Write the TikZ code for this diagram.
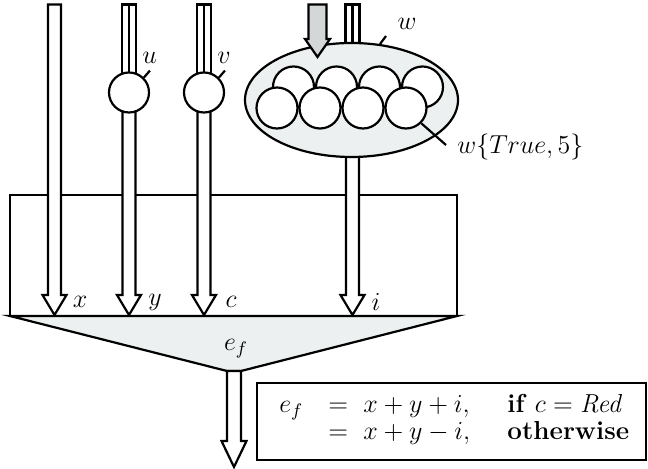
\documentclass[tikz,border=0pt]{standalone}
\usepackage{fix-cm}
\usepackage{amsmath}
\usetikzlibrary{shapes.geometric}
\definecolor{lightfill}{HTML}{EDF0F0}
\definecolor{grayarrow}{HTML}{D3D7D7}
\tikzset{
  outline/.style={draw=black, line width=1.1pt, line join=miter},
  ball/.style={circle, outline, fill=white, minimum size=20pt, inner sep=0pt},
  smallball/.style={circle, outline, fill=white, minimum size=20.5pt, inner sep=0pt},
  lbl/.style={inner sep=0pt},
  eqpart/.style={inner sep=0pt, anchor=base west},
  tick/.style={draw=black, line width=1.1pt}
}
% [fill] centre x, top y, tip y, shaft half width, head half width, head length
\newcommand{\hollowarrow}[7][white]{%
  \filldraw[outline, fill=#1] ({#2-#5},{#3}) -- ({#2-#5},{#4-#7}) -- ({#2-#6},{#4-#7})
    -- ({#2},{#4}) -- ({#2+#6},{#4-#7}) -- ({#2+#5},{#4-#7}) -- ({#2+#5},{#3}) -- cycle;}
\newcommand{\doubleshaft}[3]{%
  \filldraw[outline, fill=white] ({#1-7},{#2}) rectangle ({#1+7},{#3});
  \draw[outline] ({#1},{#2}) -- ({#1},{#3});}
\begin{document}
\begin{tikzpicture}[x=0.5pt,y=-0.5pt,font=\fontsize{13}{15.6}\selectfont]
\useasboundingbox (0,0) rectangle (648,469);

% processing box and funnel
\draw[outline] (10,195) rectangle (457,316);
\filldraw[outline, fill=lightfill] (10,316) -- (457,316) -- (241,371) -- (227,371) -- cycle;
\node[lbl] (ef) at (236,349) {$e_f$};

% x input
\hollowarrow{54.5}{4.5}{315}{6.5}{12}{20}
\node[lbl] (lx) at (80,302) {$x$};

% y input through u
\doubleshaft{129}{4.5}{80}
\hollowarrow{129}{100}{315}{6.5}{12}{20}
\node[ball] (u) at (129,92.5) {};
\draw[tick] (u.45) -- ++(6,-7) coordinate (ut);
\node[lbl] (lu) at (149.5,58) {$u$};
\node[lbl] (ly) at (155,302) {$y$};

% c input through v
\doubleshaft{204}{4.5}{80}
\hollowarrow{204}{100}{315}{6.5}{12}{20}
\node[ball] (v) at (204,92.5) {};
\draw[tick] (v.45) -- ++(6,-7) coordinate (vt);
\node[lbl] (lv) at (224,58) {$v$};
\node[lbl] (lc) at (231,302) {$c$};

% i input through w
\doubleshaft{352.5}{4.5}{60}
\hollowarrow{352.5}{120}{315}{6.5}{12}{20}
\node[ellipse, outline, fill=lightfill, minimum width=106.5pt, minimum height=57pt, inner sep=0pt] (w) at (351.5,100) {};
\node[smallball] (t1) at (293.5,87) {};
\node[smallball] (t2) at (336.5,87) {};
\node[smallball] (t3) at (379.5,87) {};
\node[smallball] (t4) at (422.5,87) {};
\node[smallball] (b1) at (277,108) {};
\node[smallball] (b2) at (320,108) {};
\node[smallball] (b3) at (363,108) {};
\node[smallball] (b4) at (406,108) {};
\hollowarrow[grayarrow]{317.5}{4.5}{57}{9}{12.5}{18}
\draw[tick] (w.63) -- ++(6,-8) coordinate (wt);
\node[lbl] (lw) at (407,24) {$w$};
\draw[tick] (b4.-45) -- (446,145) coordinate (bt);
\node[lbl, anchor=west] (lwt) at (457,147) {$w\{True,5\}$};
\node[lbl] (li) at (376,302) {$i$};

% output
\hollowarrow{234}{371}{467}{7}{12.5}{26}

% equation
\node[outline, rectangle, minimum width=194.5pt, minimum height=38.5pt, inner sep=0pt] (eqbox) at (451.5,421.5) {};
\node[eqpart] (e1a) at (279,413) {$e_f$};
\node[eqpart] (e1b) at (328,413) {$=$};
\node[eqpart] (e1c) at (363,413) {$x+y+i,$};
\node[eqpart] (e1d) at (507,413) {\textbf{if} $c=\mathit{Red}$};
\node[eqpart] (e2b) at (328,440) {$=$};
\node[eqpart] (e2c) at (363,440) {$x+y-i,$};
\node[eqpart] (e2d) at (507,440) {\textbf{otherwise}};
\end{tikzpicture}
\end{document}
